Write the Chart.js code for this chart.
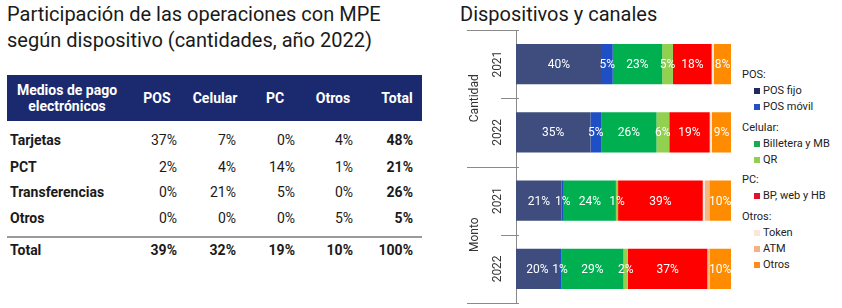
<!DOCTYPE html>
<html lang="es">
<head>
<meta charset="utf-8">
<title>Dispositivos y canales</title>
<script src="https://cdn.jsdelivr.net/npm/chart.js@4.4.1/dist/chart.umd.min.js"></script>
<style>
    body { margin: 0; width: 842px; height: 308px; background: #fff; position: relative; overflow: hidden;
           font-family: Roboto, 'Noto Sans', sans-serif; color: #1a1a1a; }
    .title { position: absolute; font-size: 20px; line-height: 26px; color: #1a1a1a; white-space: nowrap; }
    #title-left { left: 7px; top: 1px; }
    #title-right { left: 460px; top: 1px; }
    #table { position: absolute; left: 0; top: 0; width: 430px; height: 308px; }
    .head-bg { position: absolute; left: 7px; top: 75px; width: 415px; height: 46px; background: #1b2a6e; }
    .cell { position: absolute; font-size: 14px; line-height: 16px; white-space: nowrap; transform: translateY(-50%); }
    .head { color: #fff; font-weight: bold; text-align: center; }
    .bold { font-weight: bold; }
    .sep { position: absolute; left: 7px; top: 236px; width: 415px; height: 2px; background: #9a9a9a; }
    .chart-box { position: absolute; left: 460px; top: 0; width: 275px; height: 308px; }
    #legend { position: absolute; left: 742px; top: 67px; font-size: 11px; line-height: 15.9px; color: #222; }
    #legend .grp { margin-top: 5px; }
    #legend .grp:first-child { margin-top: 0; }
    #legend .item { padding-left: 12px; position: relative; }
    #legend .item span { position: absolute; left: 12px; top: 5px; width: 6px; height: 6px; }
    #legend .item b { font-weight: normal; padding-left: 9px; }
</style>
</head>
<body>
<div class="title" id="title-left">Participación de las operaciones con MPE<br>según dispositivo (cantidades, año 2022)</div>
<div class="title" id="title-right">Dispositivos y canales</div>
<div id="table"></div>
<div class="chart-box"><canvas id="chart"></canvas></div>
<div id="legend"></div>

<script>
// table data
const tableHeaders = ['POS', 'Celular', 'PC', 'Otros', 'Total'];
const tableRowLabels = ['Tarjetas', 'PCT', 'Transferencias', 'Otros'];
const tarjetasRow = [37, 7, 0, 4, 48];
const pctRow = [2, 4, 14, 1, 21];
const transferenciasRow = [0, 21, 5, 0, 26];
const otrosRow = [0, 0, 0, 5, 5];
const totalRow = [39, 32, 19, 10, 100];

// chart data (Cantidad 2021, Cantidad 2022, Monto 2021, Monto 2022)
const groups = ['Cantidad', 'Monto'];
const years = ['2021', '2022', '2021', '2022'];
const seriesNames = ['POS fijo', 'POS móvil', 'Billetera y MB', 'QR', 'BP, web y HB', 'Token', 'ATM', 'Otros'];
const posFijo   = [40, 35, 21, 20];
const posMovil  = [5, 5, 1, 1];
const billetera = [23, 26, 24, 29];
const qr        = [5, 6, 1, 2];
const bpWebHb   = [18, 19, 39, 37];
const token     = [1, 1, 1, 0];
const atm       = [0, 0, 2, 1];
const otros     = [8, 9, 10, 10];

const seriesValues = [posFijo, posMovil, billetera, qr, bpWebHb, token, atm, otros];
const barColors = ['#3e4d7e', '#1f4fc4', '#00b050', '#92d050', '#ff0000', '#fbe5d6', '#f6b77f', '#ff8c00'];
const markerColors = ['#1f2b5e', '#2352c0', '#1aa856', '#8fd14f', '#e5102c', '#fbe5d6', '#f4b183', '#ff8c1a'];
const noLabel = ['Token', 'ATM'];

// build the table
function renderTable() {
    const box = document.getElementById('table');
    const headX = [157, 215, 275, 333, 397];   // header centers
    const numRight = [177, 236, 295, 353, 413]; // right edge of numbers
    const rowY = [140, 167, 192, 218];
    let html = '<div class="head-bg"></div><div class="sep"></div>';
    html += '<div class="cell head" style="left:7px;width:120px;top:98px;">Medios de pago<br>electrónicos</div>';
    tableHeaders.forEach((h, i) => {
        html += `<div class="cell head" style="left:${headX[i] - 40}px;width:80px;top:98px;">${h}</div>`;
    });
    const rows = [tarjetasRow, pctRow, transferenciasRow, otrosRow];
    rows.forEach((row, r) => {
        html += `<div class="cell bold" style="left:10px;top:${rowY[r]}px;">${tableRowLabels[r]}</div>`;
        row.forEach((v, i) => {
            const cls = i === row.length - 1 ? 'cell bold' : 'cell';
            html += `<div class="${cls}" style="right:${430 - numRight[i]}px;top:${rowY[r]}px;">${v}%</div>`;
        });
    });
    html += '<div class="cell bold" style="left:10px;top:250px;">Total</div>';
    totalRow.forEach((v, i) => {
        html += `<div class="cell bold" style="right:${430 - numRight[i]}px;top:250px;">${v}%</div>`;
    });
    box.innerHTML = html;
}

function renderLegend() {
    const layout = [['POS:', [0, 1]], ['Celular:', [2, 3]], ['PC:', [4]], ['Otros:', [5, 6, 7]]];
    let html = '';
    layout.forEach(([title, idx]) => {
        html += `<div class="grp">${title}</div>`;
        idx.forEach(i => {
            html += `<div class="item"><span style="background:${markerColors[i]}"></span><b>${seriesNames[i]}</b></div>`;
        });
    });
    document.getElementById('legend').innerHTML = html;
}

// row totals so every bar fills 100%
const rowTotals = years.map((_, j) => seriesValues.reduce((s, arr) => s + arr[j], 0));

const barLabels = {
    id: 'barLabels',
    afterDatasetsDraw(chart) {
        const ctx = chart.ctx;
        ctx.save();
        ctx.font = '12px Roboto';
        ctx.fillStyle = '#fff';
        ctx.textAlign = 'center';
        ctx.textBaseline = 'middle';
        chart.data.datasets.forEach((ds, di) => {
            if (noLabel.includes(ds.label)) return;
            chart.getDatasetMeta(di).data.forEach((el, j) => {
                const v = ds.rawValues[j];
                if (!v) return;
                ctx.fillText(v + '%', (el.x + el.base) / 2, el.y + 1);
            });
        });
        ctx.restore();
    }
};

// year / group labels and separator ticks on the category axis
const axisDecor = {
    id: 'axisDecor',
    afterDraw(chart) {
        const ctx = chart.ctx;
        const y = chart.scales.y;
        const axisX = y.right;
        const area = chart.chartArea;
        ctx.save();
        ctx.strokeStyle = '#8a8a8a';
        ctx.lineWidth = 1;
        const n = years.length;
        for (let i = 0; i <= n; i++) {
            let py;
            if (i === 0) py = area.top;
            else if (i === n) py = area.bottom;
            else py = (y.getPixelForValue(i - 1) + y.getPixelForValue(i)) / 2;
            const long = i % 2 === 0;
            ctx.beginPath();
            ctx.moveTo(axisX - (long ? 49 : 15), Math.round(py) + 0.5);
            ctx.lineTo(axisX + 3, Math.round(py) + 0.5);
            ctx.stroke();
        }
        ctx.fillStyle = '#333';
        ctx.font = '12px Roboto';
        ctx.textAlign = 'center';
        ctx.textBaseline = 'middle';
        years.forEach((lab, i) => {
            ctx.save();
            ctx.translate(axisX - 18, y.getPixelForValue(i));
            ctx.rotate(-Math.PI / 2);
            ctx.fillText(lab, 0, 0);
            ctx.restore();
        });
        groups.forEach((g, k) => {
            const py = (y.getPixelForValue(k * 2) + y.getPixelForValue(k * 2 + 1)) / 2;
            ctx.save();
            ctx.translate(axisX - 41, py);
            ctx.rotate(-Math.PI / 2);
            ctx.fillText(g, 0, 0);
            ctx.restore();
        });
        ctx.restore();
    }
};

function initChart() {
    const ctx = document.getElementById('chart').getContext('2d');
    const datasets = seriesNames.map((name, i) => ({
        label: name,
        data: seriesValues[i].map((v, j) => v / rowTotals[j] * 100),
        rawValues: seriesValues[i],
        backgroundColor: barColors[i],
        borderWidth: 0,
        categoryPercentage: 1,
        barPercentage: 0.59
    }));

    return new Chart(ctx, {
        type: 'bar',
        data: { labels: years.map((y, i) => i), datasets },
        options: {
            indexAxis: 'y',
            responsive: true,
            maintainAspectRatio: false,
            animation: false,
            layout: { padding: { top: 30, bottom: 5, left: 0, right: 4 } },
            plugins: { legend: { display: false }, tooltip: { enabled: false } },
            scales: {
                x: { stacked: true, min: 0, max: 100, display: false },
                y: {
                    stacked: true,
                    grid: { display: false },
                    border: { display: true, color: '#8a8a8a', width: 1 },
                    ticks: { display: false },
                    afterFit(scale) { scale.width = 56; }
                }
            }
        },
        plugins: [barLabels, axisDecor]
    });
}

document.addEventListener('DOMContentLoaded', () => {
    renderTable();
    renderLegend();
    initChart();
});
</script>
</body>
</html>
